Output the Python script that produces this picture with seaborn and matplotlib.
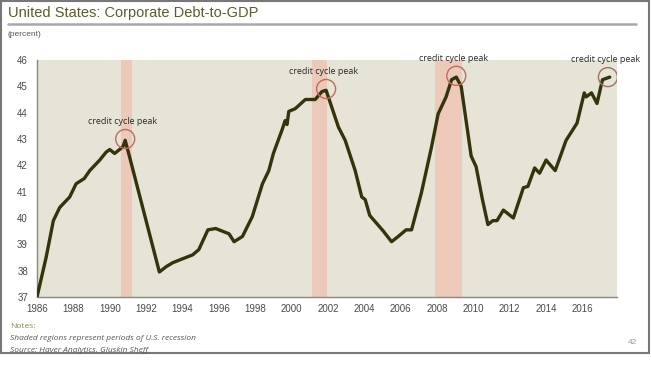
import numpy as np
import pandas as pd
import matplotlib
matplotlib.use("Agg")
import matplotlib.pyplot as plt
from matplotlib.patches import Ellipse, Rectangle
from matplotlib.lines import Line2D
import seaborn as sns

# --- Data ---
years = [1986.0, 1986.5, 1986.9, 1987.25, 1987.8, 1988.15, 1988.6, 1988.9,
         1989.45, 1989.8, 1990.0, 1990.27, 1990.72, 1990.85, 1991.1, 1992.73,
         1993.1, 1993.46, 1994.0, 1994.56, 1994.9, 1995.4, 1995.83, 1996.56,
         1996.84, 1997.3, 1997.84, 1998.4, 1998.75, 1999.0, 1999.48, 1999.65,
         1999.75, 1999.85, 2000.2, 2000.76, 2001.3, 2001.67, 2001.9, 2002.58,
         2002.95, 2003.5, 2003.86, 2004.05, 2004.3, 2005.05, 2005.5, 2005.87,
         2006.3, 2006.6, 2007.14, 2007.7, 2008.06, 2008.5, 2008.8, 2009.06,
         2009.33, 2009.88, 2010.15, 2010.5, 2010.8, 2011.07, 2011.3, 2011.65,
         2012.2, 2012.75, 2013.0, 2013.37, 2013.64, 2014.0, 2014.5, 2015.1,
         2015.7, 2016.1, 2016.2, 2016.5, 2016.8, 2017.1, 2017.5]
debt_to_gdp = [37.0, 38.5, 39.9, 40.4, 40.8, 41.3, 41.5, 41.8,
               42.2, 42.5, 42.6, 42.45, 42.7, 42.95, 42.3, 37.95,
               38.15, 38.3, 38.45, 38.6, 38.8, 39.55, 39.6, 39.4,
               39.1, 39.3, 40.05, 41.3, 41.8, 42.45, 43.35, 43.7,
               43.55, 44.05, 44.15, 44.5, 44.5, 44.8, 44.85, 43.45,
               42.95, 41.8, 40.8, 40.7, 40.1, 39.5, 39.1, 39.3,
               39.55, 39.55, 40.95, 42.7, 43.95, 44.6, 45.25, 45.35,
               45.0, 42.35, 41.95, 40.7, 39.75, 39.9, 39.9, 40.3,
               40.0, 41.15, 41.2, 41.9, 41.7, 42.2, 41.8, 42.95,
               43.6, 44.75, 44.6, 44.75, 44.35, 45.25, 45.35]

recession_start = [1990.6, 2001.15, 2007.9]
recession_end = [1991.2, 2001.95, 2009.4]

peak_years = [1990.85, 2001.9, 2009.06, 2017.4]
peak_values = [42.95, 44.85, 45.35, 45.3]
peak_label = "credit cycle peak"

df = pd.DataFrame({"year": years, "value": debt_to_gdp})

# --- Figure ---
sns.set_style("white")
plt.rcParams["font.family"] = ["Liberation Sans", "DejaVu Sans"]

fig = plt.figure(figsize=(6.51, 3.76), dpi=100)
ax = fig.add_axes([37 / 651, 1 - 297 / 376, (617 - 37) / 651, (297 - 60) / 376])
ax.set_facecolor("#e6e4d6")

for s, e in zip(recession_start, recession_end):
    ax.axvspan(s, e, color="#ecc9b9", lw=0, zorder=1)

sns.lineplot(data=df, x="year", y="value", ax=ax, color="#33330c", lw=2.4, zorder=3)

# circles around peaks
xr = 2017.9 - 1986
yr = 46 - 37
px_w, px_h = 580, 237
for i, (px, py) in enumerate(zip(peak_years, peak_values)):
    w = 19 / px_w * xr
    h = 19 / px_h * yr
    ec = "#c46a5c" if i < 3 else "#a07060"
    ax.add_patch(Ellipse((px, py + 0.05), w, h, fill=False, ec=ec, lw=1.0, zorder=4))
    ax.text(px - 0.15, py + 0.55, peak_label, ha="center", va="bottom", fontsize=6.5,
            color="#2a2a2a", family=["Open Sans", "DejaVu Sans"], zorder=5)

ax.set_xlim(1986, 2017.9)
ax.set_ylim(37, 46)
ax.set_xticks(range(1986, 2017, 2))
ax.set_yticks(range(37, 47))
ax.set_xlabel("")
ax.set_ylabel("")
ax.tick_params(axis="both", labelsize=7, colors="#4a4a4a", length=3, width=0.8,
               direction="out")
ax.tick_params(axis="x", pad=2)
for side in ["top", "right"]:
    ax.spines[side].set_visible(False)
for side in ["left", "bottom"]:
    ax.spines[side].set_color("#888888")
    ax.spines[side].set_linewidth(1.0)

# --- Titles and notes ---
fig.text(8 / 651, 1 - 13 / 376, "United States: Corporate Debt-to-GDP", fontsize=10.5,
         color="#5c5c2c", va="center", ha="left")
fig.add_artist(Line2D([8 / 651, 636 / 651], [1 - 23.5 / 376] * 2, color="#a8a8a8", lw=1.8))
fig.text(8 / 651, 1 - 34 / 376, "(percent)", fontsize=6, color="#555555", va="center")

fig.text(10 / 651, 1 - 327 / 376, "Notes:", fontsize=6, color="#8a8a50", va="center",
         family=["Open Sans", "DejaVu Sans"])
fig.text(10 / 651, 1 - 339 / 376, "Shaded regions represent periods of U.S. recession",
         fontsize=6, style="italic", color="#555555", va="center",
         family=["Open Sans", "DejaVu Sans"])
fig.text(10 / 651, 1 - 350 / 376, "Source: Haver Analytics, Gluskin Sheff",
         fontsize=6, style="italic", color="#555555", va="center",
         family=["Open Sans", "DejaVu Sans"])
fig.text(632 / 651, 1 - 342 / 376, "42", fontsize=6, color="#999999", va="center",
         ha="center")

# outer frame
fig.add_artist(Rectangle((0.5 / 651, 1 - 353 / 376), 648 / 651, 352.5 / 376,
                         transform=fig.transFigure, fill=False, ec="#777777", lw=1.5))

fig.savefig("out.png", dpi=100)
